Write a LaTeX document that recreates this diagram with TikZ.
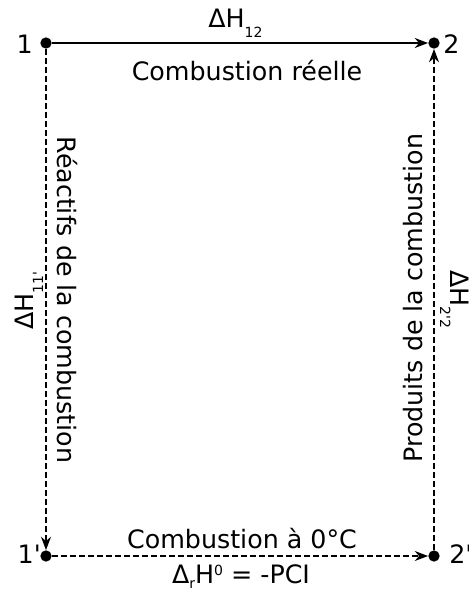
\documentclass[tikz,border=0pt]{standalone}
\usepackage{fontspec}
\setmainfont{DejaVu Sans}
\usetikzlibrary{arrows.meta}
\newcommand\mysub[1]{\raisebox{-7.5pt}{\fontsize{10.5}{11}\selectfont #1}}
\newcommand\mysup[1]{\raisebox{6pt}{\fontsize{10.5}{11}\selectfont #1}}
\newcommand\pr{\textquotesingle}
\begin{document}
\begin{tikzpicture}[x=0.75pt,y=-0.75pt,
  dot/.style={circle,fill=black,inner sep=0,minimum size=8.5pt},
  lbl/.style={inner sep=0,font=\fontsize{19}{23}\selectfont},
  solidarr/.style={line width=1.4pt,-{Stealth[length=10pt,width=7.5pt]}},
  dasharr/.style={line width=0.95pt,dash pattern=on 4.5pt off 2.25pt,-{Stealth[length=10pt,width=7.5pt]}}]
\useasboundingbox (0,0) rectangle (468,593);
\node[dot] (p1) at (46,43) {};
\node[dot] (p2) at (434,43) {};
\node[dot] (p1p) at (46,556) {};
\node[dot] (p2p) at (434,556) {};
\draw[solidarr] (p1) -- (p2);
\draw[dasharr] (p1) -- (p1p);
\draw[dasharr] (p2p) -- (p2);
\draw[dasharr] (p1p) -- (p2p);
% point labels
\node[lbl,anchor=base east] (l1) at (33,53) {1};
\node[lbl,anchor=base west] (l2) at (443,53) {2};
\node[lbl,anchor=base east] (l1p) at (41,563) {1\pr};
\node[lbl,anchor=base west] (l2p) at (449,563) {2\pr};
% top
\node[lbl,anchor=base west] (dh12) at (208,27) {ΔH\mysub{12}};
\node[lbl,anchor=base] (creel) at (247,80) {Combustion réelle};
% bottom
\node[lbl,anchor=base] (c0) at (242,548) {Combustion à 0°C};
\node[lbl,anchor=base] (pci) at (241,583) {Δ\raisebox{-4pt}{\fontsize{10.5}{11}\selectfont r}H\mysup{0} = -PCI};
% left
\node[lbl,anchor=base west,rotate=90] (dh11) at (33,330) {ΔH\mysub{11\pr}};
\node[lbl,rotate=-90] (react) at (67,300) {Réactifs de la combustion};
% right
\node[lbl,rotate=90] (prod) at (413,298) {Produits de la combustion};
\node[lbl,anchor=base west,rotate=-90] (dh22) at (450,270) {ΔH\mysub{2\pr2}};
\end{tikzpicture}
\end{document}
